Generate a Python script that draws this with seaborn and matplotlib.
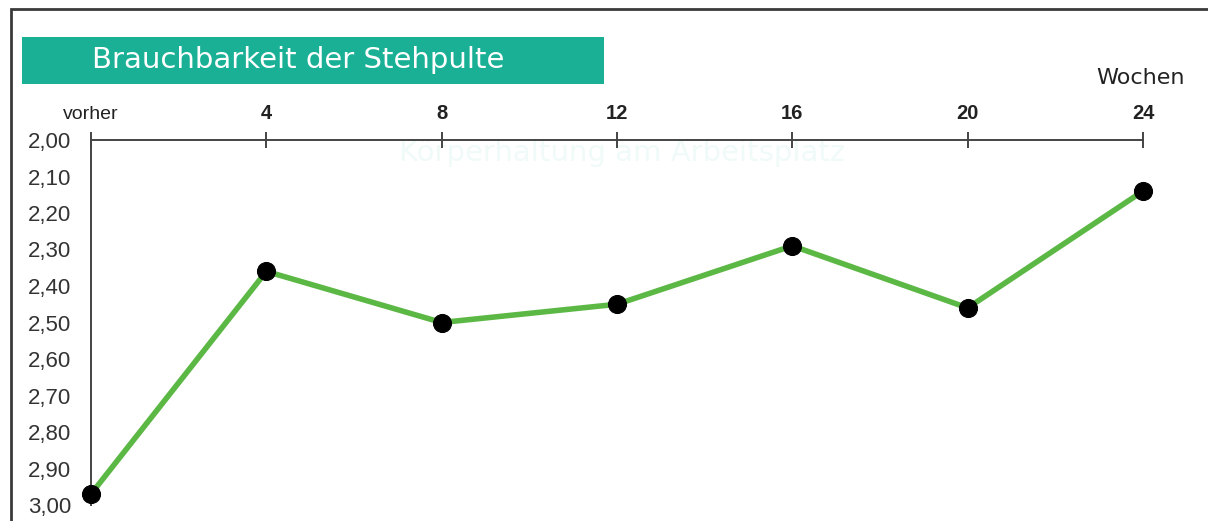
import numpy as np
import pandas as pd
import matplotlib
matplotlib.use("Agg")
import matplotlib.pyplot as plt
from matplotlib.patches import Rectangle
import seaborn as sns

# data
weeks = [0, 4, 8, 12, 16, 20, 24]
week_labels = ["vorher", "4", "8", "12", "16", "20", "24"]
scores = [2.97, 2.36, 2.50, 2.45, 2.29, 2.46, 2.14]
y_ticks = [2.0, 2.1, 2.2, 2.3, 2.4, 2.5, 2.6, 2.7, 2.8, 2.9, 3.0]

df = pd.DataFrame({"Woche": weeks, "Wert": scores})

sns.set_style("white")
plt.rcParams["font.family"] = ["Liberation Sans", "DejaVu Sans"]

W, H = 1208, 521
fig = plt.figure(figsize=(W / 100, H / 100), dpi=100)
ax = fig.add_axes([91 / W, 1 - 505 / H, (1143 - 91) / W, (505 - 140) / H])

sns.lineplot(data=df, x="Woche", y="Wert", ax=ax, color="#5cb845", linewidth=4,
             marker="o", markersize=13, markerfacecolor="black",
             markeredgecolor="black", zorder=3)

ax.set_xlim(0, 24)
ax.set_ylim(3.0, 2.0)
ax.set_xticks(weeks)
ax.set_xticklabels(week_labels)
ax.set_yticks(y_ticks)
ax.set_yticklabels([f"{v:.2f}".replace(".", ",") for v in y_ticks])
ax.xaxis.tick_top()
ax.set_xlabel("")
ax.set_ylabel("")

for s in ["right", "bottom"]:
    ax.spines[s].set_visible(False)
for s in ["top", "left"]:
    ax.spines[s].set_color("#444444")
    ax.spines[s].set_linewidth(1.4)

ax.tick_params(axis="x", direction="inout", length=11, width=1.4, color="#444444",
               labelsize=14.5, pad=7, labelcolor="#222222")
ax.tick_params(axis="y", direction="inout", length=11, width=1.4, color="#444444",
               labelsize=16, pad=9, labelcolor="#333333")
for lbl in ax.get_xticklabels():
    if lbl.get_text() == "vorher":
        lbl.set_fontsize(14)
    else:
        lbl.set_fontweight("bold")

ax.patch.set_alpha(0)
for c in ax.get_children():
    if hasattr(c, "set_clip_on"):
        c.set_clip_on(False)

# outer frame
fig.patches.append(Rectangle((11 / W, -0.1), 1.2, 1 - 9 / H + 0.1,
                             transform=fig.transFigure, fill=False,
                             edgecolor="#3a3a3a", linewidth=2))

# title box
fig.patches.append(Rectangle((22 / W, 1 - 84 / H), (604 - 22) / W, (84 - 37) / H,
                             transform=fig.transFigure, facecolor="#19b095",
                             edgecolor="none"))
fig.text(92 / W, 1 - 60 / H, "Brauchbarkeit der Stehpulte", color="white",
         fontsize=21, va="center", ha="left", family=["DejaVu Sans"])

fig.text(1141 / W, 1 - 78 / H, "Wochen", color="#222222", fontsize=16,
         va="center", ha="center", family=["DejaVu Sans"])

# faint watermark subtitle, behind the axes
fig.text(622 / W, 1 - 153 / H, "Körperhaltung am Arbeitsplatz", color="#f0faf8",
         fontsize=21, va="center", ha="center", family=["DejaVu Sans"], zorder=-1)

fig.savefig("out.png", dpi=100)
